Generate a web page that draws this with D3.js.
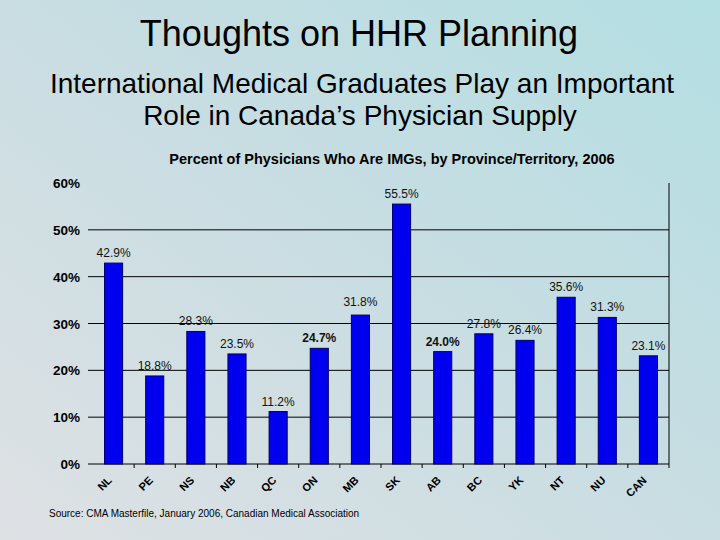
<!DOCTYPE html>
<html>
<head>
  <meta charset="utf-8">
  <title>IMGs by Province</title>
  <script src="https://d3js.org/d3.v7.min.js"></script>
  <style>
    html, body { margin: 0; padding: 0; overflow: hidden; }
    svg { display: block; font-family: Arial, "Liberation Sans", sans-serif; }
  </style>
</head>
<body>
  <svg width="720" height="540"></svg>
  <script>
    // data
    const provinces = ["NL", "PE", "NS", "NB", "QC", "ON", "MB", "SK", "AB", "BC", "YK", "NT", "NU", "CAN"];
    const imgShare = [42.9, 18.8, 28.3, 23.5, 11.2, 24.7, 31.8, 55.5, 24.0, 27.8, 26.4, 35.6, 31.3, 23.1];
    const boldLabels = ["ON", "AB"];
    const yTicks = [0, 10, 20, 30, 40, 50, 60];

    const svg = d3.select("svg");

    // background gradient
    const grad = svg.append("defs").append("linearGradient")
      .attr("id", "bg").attr("x1", "0%").attr("y1", "100%").attr("x2", "100%").attr("y2", "0%");
    grad.append("stop").attr("offset", "0%").attr("stop-color", "#dee1e4");
    grad.append("stop").attr("offset", "55%").attr("stop-color", "#c7dde2");
    grad.append("stop").attr("offset", "100%").attr("stop-color", "#b3dfe3");
    svg.append("rect").attr("width", 720).attr("height", 540).attr("fill", "url(#bg)");

    // titles
    svg.append("text").attr("x", 359).attr("y", 46).attr("text-anchor", "middle")
      .attr("font-size", 36).text("Thoughts on HHR Planning");
    svg.append("text").attr("x", 362).attr("y", 93).attr("text-anchor", "middle")
      .attr("font-size", 28).text("International Medical Graduates Play an Important");
    svg.append("text").attr("x", 360).attr("y", 125).attr("text-anchor", "middle")
      .attr("font-size", 28).text("Role in Canada\u2019s Physician Supply");

    svg.append("text").attr("x", 392).attr("y", 164).attr("text-anchor", "middle")
      .attr("font-size", 14.5).attr("font-weight", "bold")
      .text("Percent of Physicians Who Are IMGs, by Province/Territory, 2006");

    // scales
    const x = d3.scaleBand().domain(provinces).range([93, 669]).paddingInner(0.56).paddingOuter(0.28);
    const y = d3.scaleLinear().domain([0, 60]).range([464, 183]);

    // gridlines
    svg.append("g").selectAll("line").data(yTicks.filter(d => d > 0 && d < 60)).join("line")
      .attr("x1", 88).attr("x2", 669)
      .attr("y1", d => y(d)).attr("y2", d => y(d))
      .attr("stroke", "#000").attr("stroke-width", 1);

    // right border
    svg.append("line").attr("x1", 669).attr("x2", 669).attr("y1", y(60)).attr("y2", y(0) + 4)
      .attr("stroke", "#000");

    // y axis labels
    svg.append("g").selectAll("text").data(yTicks).join("text")
      .attr("x", 80).attr("y", d => y(d) + 5).attr("text-anchor", "end")
      .attr("font-size", 13.5).attr("font-weight", "bold")
      .text(d => d + "%");

    // bars
    svg.append("g").selectAll("rect").data(provinces).join("rect")
      .attr("x", d => x(d))
      .attr("width", x.bandwidth())
      .attr("y", (d, i) => y(imgShare[i]))
      .attr("height", (d, i) => y(0) - y(imgShare[i]))
      .attr("fill", "#0000ee")
      .attr("stroke", "#000066").attr("stroke-width", 1);

    // value labels
    svg.append("g").selectAll("text").data(provinces).join("text")
      .attr("x", d => x(d) + x.bandwidth() / 2)
      .attr("y", (d, i) => y(imgShare[i]) - (d === "MB" ? 9 : 6))
      .attr("text-anchor", "middle")
      .attr("font-size", 12)
      .attr("font-weight", d => boldLabels.includes(d) ? "bold" : "normal")
      .attr("fill", "#111")
      .text((d, i) => imgShare[i].toFixed(1) + "%");

    // x axis
    const step = x.step();
    svg.append("line").attr("x1", 88).attr("x2", 669).attr("y1", y(0)).attr("y2", y(0)).attr("stroke", "#000");
    svg.append("g").selectAll("line").data(provinces.slice(1)).join("line")
      .attr("x1", d => x(d) - x.paddingInner() * step / 2)
      .attr("x2", d => x(d) - x.paddingInner() * step / 2)
      .attr("y1", y(0)).attr("y2", y(0) + 4)
      .attr("stroke", "#000");

    svg.append("g").selectAll("text").data(provinces).join("text")
      .attr("transform", d => `translate(${x(d) + x.bandwidth() / 2 - 1},${y(0) + 17}) rotate(-45)`)
      .attr("text-anchor", "end")
      .attr("font-size", 11).attr("font-weight", "bold")
      .text(d => d);

    // source
    svg.append("text").attr("x", 49).attr("y", 517).attr("font-size", 10)
      .text("Source: CMA Masterfile, January 2006, Canadian Medical Association");
  </script>
</body>
</html>
